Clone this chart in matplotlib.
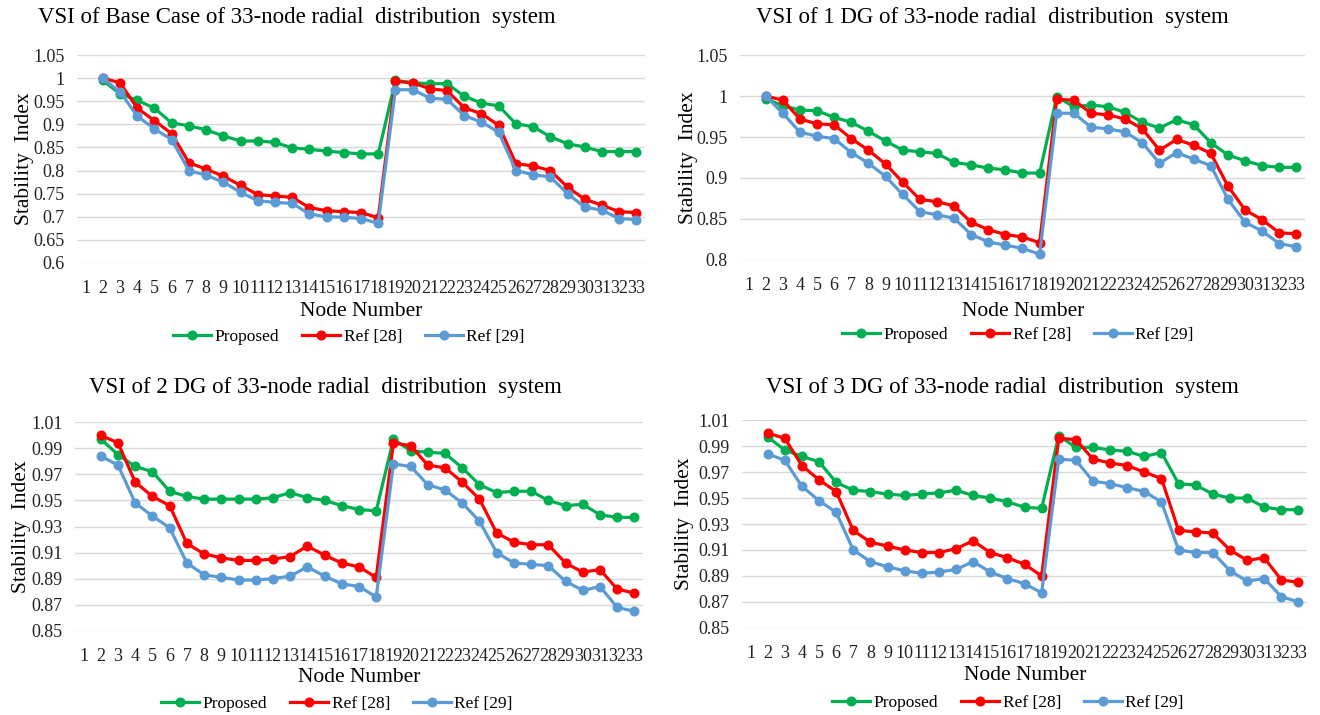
"""VSI comparison charts for the 33-node radial distribution system."""

import matplotlib

matplotlib.use("Agg")
import matplotlib.pyplot as plt
from matplotlib.ticker import FixedLocator, FuncFormatter

plt.rcParams["font.family"] = ["Liberation Serif", "DejaVu Serif"]

W, H = 1320, 715

nodes = list(range(2, 34))
tick_nodes = list(range(1, 34))
series_names = ["Proposed", "Ref [28]", "Ref [29]"]
series_colors = ["#00B050", "#FF0000", "#5B9BD5"]

base_proposed = [0.995, 0.966, 0.952, 0.935, 0.903, 0.897, 0.888, 0.875, 0.864, 0.864, 0.861,
                 0.849, 0.846, 0.842, 0.839, 0.836, 0.836, 0.995, 0.990, 0.988, 0.988, 0.961,
                 0.946, 0.940, 0.901, 0.895, 0.873, 0.858, 0.851, 0.841, 0.841, 0.841]
base_ref28 = [1.000, 0.990, 0.935, 0.908, 0.880, 0.817, 0.803, 0.788, 0.768, 0.748, 0.745,
              0.742, 0.720, 0.713, 0.711, 0.709, 0.698, 0.993, 0.990, 0.977, 0.973, 0.936,
              0.923, 0.898, 0.815, 0.810, 0.800, 0.764, 0.738, 0.725, 0.711, 0.709]
base_ref29 = [1.000, 0.970, 0.918, 0.890, 0.867, 0.800, 0.790, 0.775, 0.753, 0.735, 0.731,
              0.729, 0.706, 0.700, 0.699, 0.696, 0.686, 0.975, 0.975, 0.957, 0.954, 0.919,
              0.905, 0.883, 0.800, 0.791, 0.786, 0.750, 0.721, 0.714, 0.696, 0.694]

dg1_proposed = [0.997, 0.988, 0.983, 0.982, 0.974, 0.968, 0.957, 0.945, 0.934, 0.932, 0.930,
                0.919, 0.916, 0.912, 0.910, 0.906, 0.906, 0.999, 0.987, 0.989, 0.987, 0.980,
                0.968, 0.961, 0.971, 0.965, 0.943, 0.928, 0.921, 0.915, 0.913, 0.913]
dg1_ref28 = [1.000, 0.995, 0.972, 0.966, 0.965, 0.948, 0.934, 0.917, 0.895, 0.874, 0.871,
             0.866, 0.846, 0.837, 0.831, 0.828, 0.821, 0.996, 0.995, 0.979, 0.977, 0.972,
             0.960, 0.934, 0.947, 0.940, 0.930, 0.890, 0.861, 0.849, 0.833, 0.832]
dg1_ref29 = [1.000, 0.979, 0.956, 0.951, 0.948, 0.931, 0.918, 0.902, 0.880, 0.859, 0.855,
             0.851, 0.831, 0.822, 0.818, 0.814, 0.807, 0.979, 0.979, 0.962, 0.960, 0.956,
             0.943, 0.918, 0.931, 0.923, 0.915, 0.874, 0.846, 0.835, 0.820, 0.816]

dg2_proposed = [0.997, 0.985, 0.976, 0.972, 0.957, 0.953, 0.951, 0.951, 0.951, 0.951, 0.952,
                0.956, 0.952, 0.950, 0.946, 0.943, 0.942, 0.997, 0.988, 0.987, 0.986, 0.975,
                0.962, 0.956, 0.957, 0.957, 0.950, 0.946, 0.947, 0.939, 0.937, 0.937]
dg2_ref28 = [1.000, 0.994, 0.964, 0.953, 0.946, 0.917, 0.909, 0.906, 0.904, 0.904, 0.905,
             0.907, 0.915, 0.908, 0.902, 0.899, 0.891, 0.994, 0.992, 0.977, 0.975, 0.964,
             0.951, 0.925, 0.918, 0.916, 0.916, 0.902, 0.895, 0.897, 0.882, 0.879]
dg2_ref29 = [0.984, 0.977, 0.948, 0.938, 0.929, 0.902, 0.893, 0.891, 0.889, 0.889, 0.890,
             0.892, 0.899, 0.892, 0.886, 0.884, 0.876, 0.978, 0.976, 0.962, 0.958, 0.948,
             0.934, 0.910, 0.902, 0.901, 0.900, 0.888, 0.881, 0.884, 0.868, 0.865]

dg3_proposed = [0.997, 0.987, 0.982, 0.978, 0.962, 0.956, 0.955, 0.953, 0.952, 0.953, 0.954,
                0.956, 0.952, 0.950, 0.947, 0.943, 0.942, 0.998, 0.989, 0.989, 0.987, 0.986,
                0.982, 0.985, 0.961, 0.960, 0.953, 0.950, 0.950, 0.943, 0.941, 0.941]
dg3_ref28 = [1.000, 0.996, 0.975, 0.964, 0.955, 0.925, 0.916, 0.913, 0.910, 0.908, 0.908,
             0.911, 0.917, 0.908, 0.904, 0.899, 0.890, 0.996, 0.995, 0.980, 0.977, 0.975,
             0.970, 0.965, 0.925, 0.924, 0.923, 0.910, 0.902, 0.904, 0.887, 0.885]
dg3_ref29 = [0.984, 0.979, 0.959, 0.948, 0.939, 0.910, 0.901, 0.897, 0.894, 0.892, 0.893,
             0.895, 0.901, 0.893, 0.888, 0.884, 0.877, 0.980, 0.979, 0.963, 0.961, 0.958,
             0.955, 0.947, 0.910, 0.908, 0.908, 0.894, 0.886, 0.888, 0.874, 0.870]

titles = [
    "VSI of Base Case of 33-node radial  distribution  system",
    "VSI of 1 DG of 33-node radial  distribution  system",
    "VSI of 2 DG of 33-node radial  distribution  system",
    "VSI of 3 DG of 33-node radial  distribution  system",
]
y_ranges = [(0.6, 1.05, 0.05), (0.8, 1.05, 0.05), (0.85, 1.01, 0.02), (0.85, 1.01, 0.02)]
all_series = [
    (base_proposed, base_ref28, base_ref29),
    (dg1_proposed, dg1_ref28, dg1_ref29),
    (dg2_proposed, dg2_ref28, dg2_ref29),
    (dg3_proposed, dg3_ref28, dg3_ref29),
]

# pixel layout: plot box (left, right, top, bottom), title centre, legend centre
boxes = [(77, 645, 55, 263), (740, 1305, 55, 260), (75, 643, 422, 631), (742, 1307, 420, 628)]
title_pos = [(297, 18), (992, 18), (325, 388), (1002, 387)]
xlabel_pos = [(361, 312), (1023, 312), (359, 678), (1025, 675)]
legend_pos = [(349, 337), (1018, 335), (337, 704), (1008, 703)]
ylabel_x = [25, 688, 22, 684]


def fx(px):
    return px / W


def fy(py):
    return 1 - py / H


def general_fmt(v, _pos):
    return f"{v:.2f}".rstrip("0").rstrip(".")


fig = plt.figure(figsize=(W / 100, H / 100), dpi=100)

for i in range(4):
    left, right, top, bottom = boxes[i]
    ax = fig.add_axes([fx(left), fy(bottom), (right - left) / W, (bottom - top) / H])
    ymin, ymax, step = y_ranges[i]
    n_ticks = int(round((ymax - ymin) / step)) + 1
    yticks = [round(ymin + k * step, 2) for k in range(n_ticks)]

    for vals, name, color in zip(all_series[i], series_names, series_colors):
        ax.plot(nodes, vals, color=color, lw=2.3, marker="o", ms=6.2, label=name,
                solid_joinstyle="round")

    ax.set_xlim(0.5, 33.5)
    ax.set_ylim(ymin - 1e-4, ymax + 1e-4)
    ax.yaxis.set_major_locator(FixedLocator(yticks))
    ax.yaxis.set_major_formatter(FuncFormatter(general_fmt))
    ax.set_xticks(tick_nodes)
    ax.set_xticklabels([str(n) for n in tick_nodes])
    ax.tick_params(axis="both", length=0, labelsize=13, colors="#222222")
    ax.tick_params(axis="x", pad=12)
    ax.tick_params(axis="y", pad=9)
    ax.grid(axis="y", color="#D9D9D9", lw=1.0)
    ax.set_axisbelow(True)
    for spine in ax.spines.values():
        spine.set_visible(False)

    fig.text(fx(title_pos[i][0]), fy(title_pos[i][1]), titles[i], ha="center", va="center",
             fontsize=16.5)
    fig.text(fx(xlabel_pos[i][0]), fy(xlabel_pos[i][1]), "Node Number", ha="center",
             va="center", fontsize=15.5)
    fig.text(fx(ylabel_x[i]), fy((top + bottom) / 2), "Stability  Index", ha="center",
             va="center", rotation=90, fontsize=15.5)

    ax.legend(loc="center", bbox_to_anchor=(fx(legend_pos[i][0]), fy(legend_pos[i][1])),
              bbox_transform=fig.transFigure, ncol=3, frameon=False, fontsize=12.5,
              handlelength=2.2, columnspacing=1.3, handletextpad=0.2)

fig.savefig("out.png", dpi=100)
